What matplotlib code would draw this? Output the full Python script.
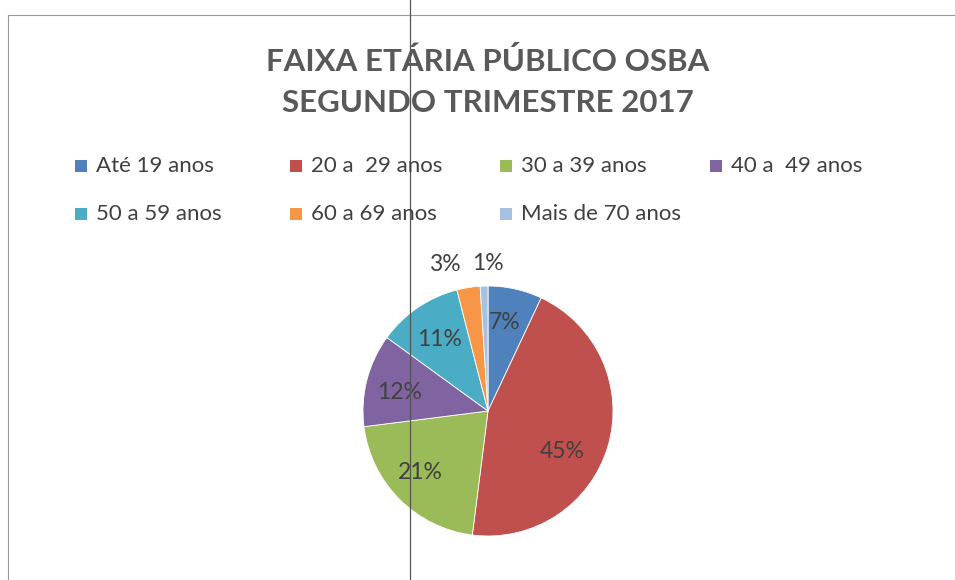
import numpy as np
import matplotlib
matplotlib.use("Agg")
import matplotlib.pyplot as plt
from matplotlib.patches import Rectangle
from matplotlib.lines import Line2D

# data
faixas = ["Até 19 anos", "20 a  29 anos", "30 a 39 anos", "40 a  49 anos",
          "50 a 59 anos", "60 a 69 anos", "Mais de 70 anos"]
percentuais = [7, 45, 21, 12, 11, 3, 1]
cores = ["#4F81BD", "#C0504D", "#9BBB59", "#8064A2", "#4BACC6", "#F79646", "#A7C1E3"]

titulo = "FAIXA ETÁRIA PÚBLICO OSBA\nSEGUNDO TRIMESTRE 2017"

plt.rcParams['font.family'] = ['Lato', 'DejaVu Sans']

W, H = 955, 580
fig = plt.figure(figsize=(W / 100, H / 100), dpi=100)
fig.patch.set_facecolor("white")

# pie axes: centre ~ (488, 411) px, radius ~125 px
cx, cy, r = 488, 411, 125
ax = fig.add_axes([(cx - r) / W, (H - cy - r) / H, 2 * r / W, 2 * r / H])
wedges, _ = ax.pie(percentuais, colors=cores, startangle=90, counterclock=False,
                   radius=1.0, wedgeprops=dict(linewidth=0.6, edgecolor="white"))
ax.set_xlim(-1, 1)
ax.set_ylim(-1, 1)
ax.set_aspect("equal")
ax.axis("off")

# label distance per slice (Excel "best fit" look)
dist = [0.72, 0.68, 0.73, 0.72, 0.69, 1.22, 1.18]
shift = [2.3, -12.5, -3, 2.8, 0, 7.4, -1.8]   # angular nudges, degrees
for w, p, d, s in zip(wedges, percentuais, dist, shift):
    ang = np.deg2rad((w.theta1 + w.theta2) / 2 + s)
    ax.text(d * np.cos(ang), d * np.sin(ang), f"{p}%", ha="center", va="center",
            fontsize=16.5, color="#404040")

# title
fig.text(cx / W, 1 - 82 / H, titulo, ha="center", va="center", fontsize=22.5,
         fontweight="bold", color="#595959", linespacing=1.6)

# legend laid out like the Excel one
col_x = [75, 290, 500, 710]
row_y = [166, 214]
for i, (lab, c) in enumerate(zip(faixas, cores)):
    x = col_x[i % 4]
    y = row_y[i // 4]
    fig.add_artist(Rectangle((x / W, 1 - (y + 6) / H), 12 / W, 12 / H,
                             transform=fig.transFigure, facecolor=c, edgecolor="none"))
    fig.text((x + 21) / W, 1 - y / H, lab, ha="left", va="center",
             fontsize=16, color="#404040")

# chart frame and scan crease
fig.add_artist(Line2D([8 / W, 1], [1 - 15 / H, 1 - 15 / H], transform=fig.transFigure,
                      color="#9a9a9a", lw=0.8))
fig.add_artist(Line2D([8 / W, 8 / W], [0, 1 - 15 / H], transform=fig.transFigure,
                      color="#9a9a9a", lw=0.8))
fig.add_artist(Line2D([410 / W, 410 / W], [0, 1], transform=fig.transFigure,
                      color="#555555", lw=0.9))

fig.savefig("out.png", dpi=100, facecolor="white")
